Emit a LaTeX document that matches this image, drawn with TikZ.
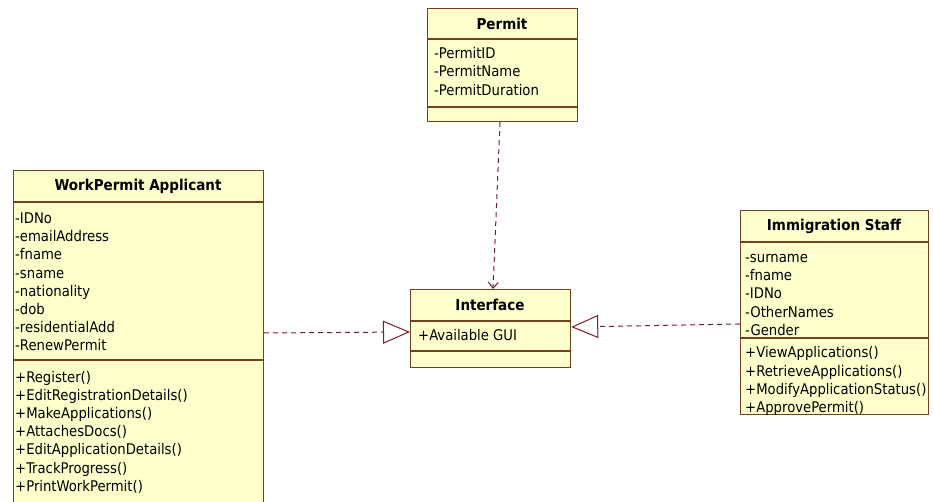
\documentclass[tikz,border=0pt]{standalone}
\usepackage{fontspec}
\setmainfont{DejaVu Sans Condensed}
\usetikzlibrary{arrows.meta}
\definecolor{classfill}{RGB}{255,255,204}
\definecolor{classline}{RGB}{112,64,32}
\definecolor{linkcol}{RGB}{120,30,40}
\begin{document}
\begin{tikzpicture}[x=1pt,y=-1pt,
  classbox/.style={draw=classline, fill=classfill, line width=1.2pt, inner sep=0pt, anchor=north west},
  divider/.style={draw=classline, line width=1.2pt},
  classtitle/.style={font=\fontsize{15}{18}\selectfont\bfseries, inner sep=0pt},
  member/.style={font=\fontsize{14.7}{18}\selectfont, inner sep=0pt, anchor=base west},
  realize/.style={draw=linkcol, line width=1pt, dash pattern=on 5pt off 4pt,
    -{Triangle[open, fill=white, length=27pt, width=23pt, line width=1pt]}},
  depend/.style={draw=linkcol, line width=1pt, dash pattern=on 5pt off 4pt,
    -{Straight Barb[length=6pt, width=10pt, line width=1pt]}}]
\clip (0,0) rectangle (934,502);
\fill[white] (0,0) rectangle (934,502);

% Permit
\node[classbox, minimum width=150pt, minimum height=113pt] (permit) at (427,8) {};
\draw[divider] (427,39) -- (577,39);
\draw[divider] (427,107) -- (577,107);
\node[classtitle] (permit-t) at (502,23.5) {Permit};
\foreach \t [count=\i] in {-PermitID,-PermitName,-PermitDuration}
  \node[member] (permit-a\i) at (434,{58.5+18.3*(\i-1)}) {\t};

% WorkPermit Applicant
\node[classbox, minimum width=250pt, minimum height=340pt] (applicant) at (13,170) {};
\draw[divider] (13,202) -- (263,202);
\draw[divider] (13,360) -- (263,360);
\node[classtitle] (applicant-t) at (138,186) {WorkPermit Applicant};
\foreach \t [count=\i] in {-IDNo,-emailAddress,-fname,-sname,-nationality,-dob,-residentialAdd,-RenewPermit}
  \node[member] (applicant-a\i) at (15,{223.5+18.2*(\i-1)}) {\t};
\foreach \t [count=\i] in {+Register(),+EditRegistrationDetails(),+MakeApplications(),+AttachesDocs(),+EditApplicationDetails(),+TrackProgress(),+PrintWorkPermit()}
  \node[member] (applicant-m\i) at (15,{382+18.2*(\i-1)}) {\t};

% Interface
\node[classbox, minimum width=160pt, minimum height=78pt] (iface) at (410,289) {};
\draw[divider] (410,321) -- (570,321);
\draw[divider] (410,351) -- (570,351);
\node[classtitle] (iface-t) at (490,305) {Interface};
\node[member] (iface-a1) at (418,340.5) {+Available GUI};

% Immigration Staff
\node[classbox, minimum width=188pt, minimum height=204pt] (staff) at (740,210) {};
\draw[divider] (740,242) -- (928,242);
\draw[divider] (740,338) -- (928,338);
\node[classtitle] (staff-t) at (834,226) {Immigration Staff};
\foreach \t [count=\i] in {-surname,-fname,-IDNo,-OtherNames,-Gender}
  \node[member] (staff-a\i) at (745,{262.5+18.2*(\i-1)}) {\t};
\foreach \t [count=\i] in {+ViewApplications(),+RetrieveApplications(),+ModifyApplicationStatus(),+ApprovePermit()}
  \node[member] (staff-m\i) at (745,{358+18.2*(\i-1)}) {\t};

% Connectors
\draw[realize] (applicant.east |- 0,333) -- (iface.west |- 0,332);
\draw[realize] (staff.west |- 0,324) -- (iface.east |- 0,327);
\draw[depend] (permit.south -| 500,0) -- (iface.north -| 493,0);
\end{tikzpicture}
\end{document}
